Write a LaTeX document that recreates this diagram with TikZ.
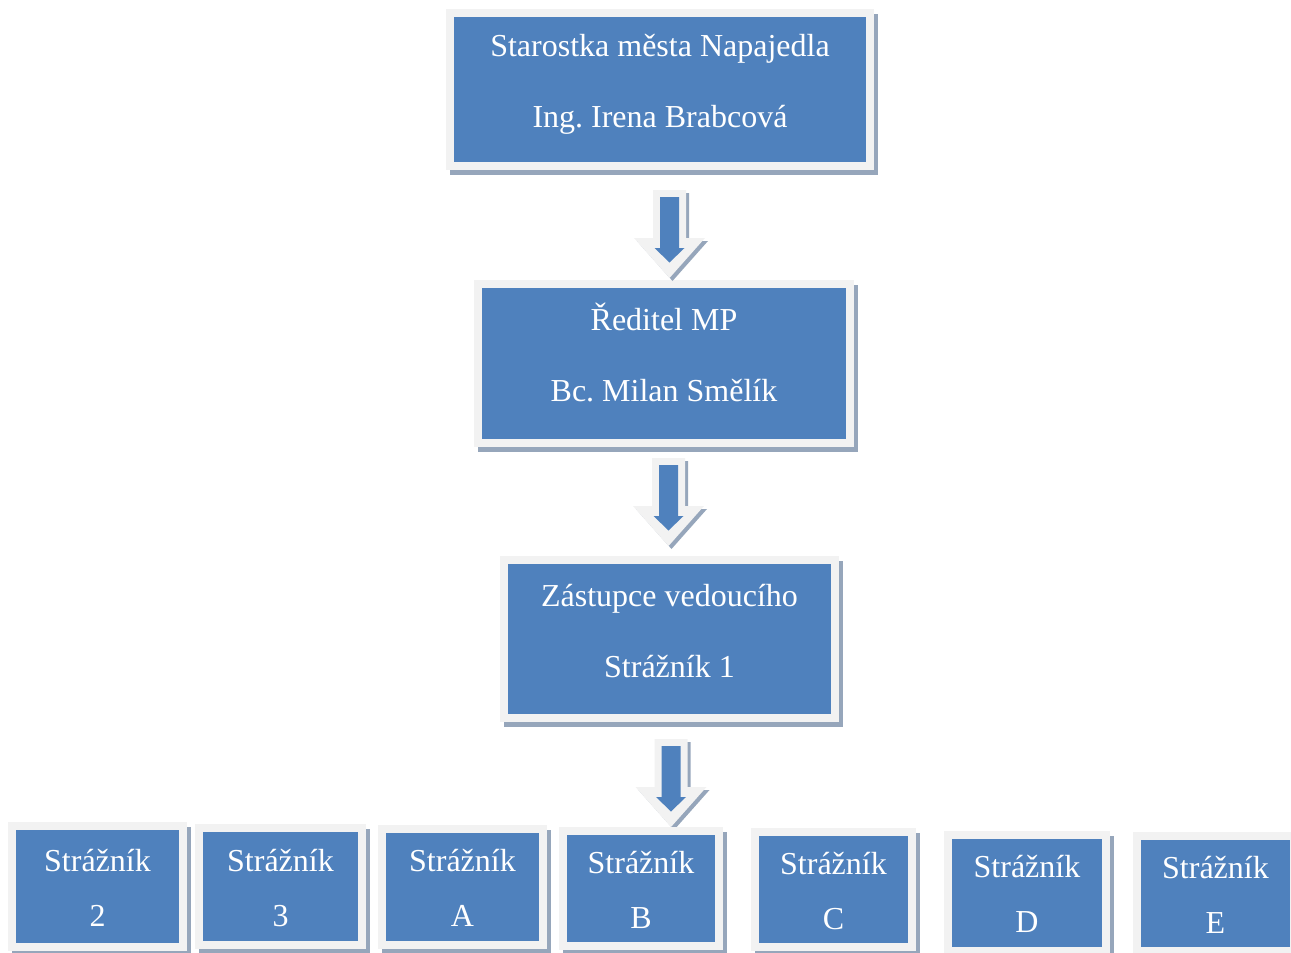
\documentclass[tikz,border=0pt]{standalone}
\usepackage{fontspec}
\setmainfont{Liberation Serif}
\frenchspacing
\usetikzlibrary{shadows,calc}
\definecolor{boxblue}{RGB}{79,129,189}
\definecolor{framegray}{RGB}{242,242,242}
\definecolor{shadowc}{RGB}{150,166,187}
\tikzset{
  orgbox/.style={rectangle, fill=boxblue, draw=framegray, line width=8pt,
    text=white, align=center, inner sep=0pt,
    general shadow={fill=shadowc, draw=shadowc, line width=8pt,
      shadow xshift=4pt, shadow yshift=-5pt}},
  bigbox/.style={orgbox, font=\frenchspacing\fontsize{32}{71}\selectfont, text height=96pt, text depth=20pt},
  smallbox/.style={orgbox, font=\fontsize{32}{55}\selectfont, text height=89pt, text depth=10pt},
  blockarrow/.pic={
    \fill[shadowc] (-13.5,3) -- (19.5,3) -- (19.5,51) -- (38.5,51) -- (3,91) -- (-32.5,51) -- (-13.5,51) -- cycle;
    \fill[framegray] (-16.5,0) -- (16.5,0) -- (16.5,48) -- (35.5,48) -- (0,88) -- (-35.5,48) -- (-16.5,48) -- cycle;
    \fill[boxblue] (-9.5,7) -- (9.5,7) -- (9.5,58) -- (15,58) -- (0,72.5) -- (-15,58) -- (-9.5,58) -- cycle;
  }
}
\begin{document}
\begin{tikzpicture}[x=1pt,y=-1pt]
\useasboundingbox (0,0) rectangle (1291,953);
% top chain
\node[bigbox, minimum width=420pt, minimum height=153pt] (b1) at (660,89.5)
  {Starostka města Napajedla\\Ing. Irena Brabcová};
\node[bigbox, minimum width=372pt, minimum height=159pt] (b2) at (664,363.5)
  {Ředitel MP\\Bc. Milan Smělík};
\node[bigbox, minimum width=331pt, minimum height=158pt] (b3) at (669.5,639)
  {Zástupce vedoucího\\Strážník 1};
% block arrows
\pic (a1) at (669.5,190) {blockarrow};
\pic (a2) at (668.5,458) {blockarrow};
\pic (a3) at (671,739) {blockarrow};
% bottom row
\node[smallbox, minimum width=171pt, minimum height=121pt] (s2) at (97.5,886.5) {Strážník\\2};
\node[smallbox, minimum width=163pt, minimum height=117pt] (s3) at (280.5,886.5) {Strážník\\3};
\node[smallbox, minimum width=161pt, minimum height=116pt] (sa) at (462.5,887) {Strážník\\A};
\node[smallbox, minimum width=156pt, minimum height=115pt] (sb) at (641,888.5) {Strážník\\B};
\node[smallbox, minimum width=157pt, minimum height=115pt] (sc) at (833.5,889.5) {Strážník\\C};
\node[smallbox, minimum width=158pt, minimum height=116pt] (sd) at (1027,893) {Strážník\\D};
\node[smallbox, minimum width=157pt, minimum height=115pt] (se) at (1215.5,893.5) {Strážník\\E};
\end{tikzpicture}
\end{document}
